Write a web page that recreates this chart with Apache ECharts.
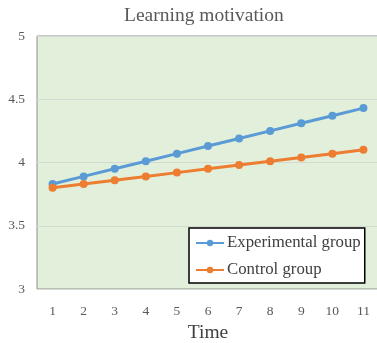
<!DOCTYPE html>
<html>
<head>
<meta charset="utf-8">
<script src="https://cdn.jsdelivr.net/npm/echarts@6/dist/echarts.min.js"></script>
<style>
  html, body { margin: 0; padding: 0; background: #fff; }
  #chart { width: 377px; height: 343px; }
</style>
</head>
<body>
<div id="chart"></div>
<script>
// Time points and mean motivation scores per group
const timePoints = ['1', '2', '3', '4', '5', '6', '7', '8', '9', '10', '11'];
const experimentalGroup = [3.83, 3.89, 3.95, 4.01, 4.07, 4.13, 4.19, 4.25, 4.31, 4.37, 4.43];
const controlGroup = [3.80, 3.83, 3.86, 3.89, 3.92, 3.95, 3.98, 4.01, 4.04, 4.07, 4.10];
const yTicks = { min: 3, max: 5, step: 0.5 };

const serif = '"Liberation Serif", "Times New Roman", serif';
const chart = echarts.init(document.getElementById('chart'), null, { renderer: 'canvas' });

chart.setOption({
  animation: false,
  title: {
    text: 'Learning motivation',
    left: 119,
    top: 1,
    textStyle: { fontFamily: serif, fontSize: 19.5, fontWeight: 'normal', color: '#595959' }
  },
  grid: {
    left: 37,
    top: 36,
    width: 342,
    height: 253,
    outerBoundsMode: 'none',
    containLabel: false,
    show: true,
    backgroundColor: '#E2EFDA',
    borderColor: '#8f8f8f',
    borderWidth: 1
  },
  legend: {
    orient: 'vertical',
    left: 189,
    top: 228,
    padding: [6, 4, 4, 6],
    itemGap: 9,
    itemWidth: 28,
    itemHeight: 8,
    backgroundColor: '#ffffff',
    borderColor: '#000000',
    borderWidth: 1.5,
    textStyle: { fontFamily: serif, fontSize: 16.8, lineHeight: 18, color: '#404040', padding: [0, 0, 0, -2] },
    data: ['Experimental group', 'Control group']
  },
  xAxis: {
    type: 'category',
    data: timePoints,
    boundaryGap: true,
    name: 'Time',
    nameLocation: 'middle',
    nameGap: 34,
    nameTextStyle: { fontFamily: serif, fontSize: 19.5, color: '#404040' },
    axisLine: { show: false },
    axisTick: { show: false },
    axisLabel: { fontFamily: serif, fontSize: 13.5, color: '#595959', margin: 15 }
  },
  yAxis: {
    type: 'value',
    min: yTicks.min,
    max: yTicks.max,
    interval: yTicks.step,
    axisLine: { show: false },
    axisTick: { show: false },
    axisLabel: { fontFamily: serif, fontSize: 13.5, color: '#595959', margin: 12, padding: [3, 0, 0, 0] },
    splitLine: { lineStyle: { color: '#d4d9d1', width: 1 } }
  },
  series: [
    {
      name: 'Experimental group',
      type: 'line',
      data: experimentalGroup,
      symbol: 'circle',
      symbolSize: 8,
      lineStyle: { color: '#5B9BD5', width: 3 },
      itemStyle: { color: '#5B9BD5' }
    },
    {
      name: 'Control group',
      type: 'line',
      data: controlGroup,
      symbol: 'circle',
      symbolSize: 8,
      lineStyle: { color: '#ED7D31', width: 3 },
      itemStyle: { color: '#ED7D31' }
    }
  ]
});
</script>
</body>
</html>
